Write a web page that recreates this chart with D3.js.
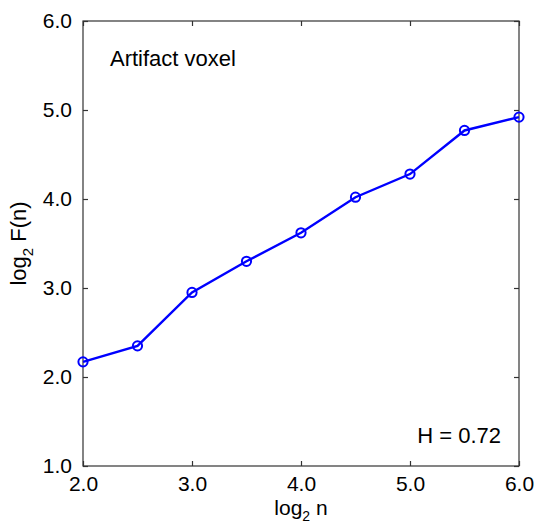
<!DOCTYPE html>
<html><head><meta charset="utf-8">
<script src="https://cdn.jsdelivr.net/npm/d3@7"></script>
<style>body{margin:0;background:#fff}text{font-family:"Liberation Sans",Arial,sans-serif;fill:#000}</style>
</head><body><svg id="c" width="538" height="523"></svg>
<script>
const xValues = [2.0, 2.5, 3.0, 3.5, 4.0, 4.5, 5.0, 5.5, 6.0];
const yValues = [2.17, 2.35, 2.95, 3.30, 3.62, 4.02, 4.28, 4.77, 4.92];
const xTicks = [2, 3, 4, 5, 6];
const yTicks = [1, 2, 3, 4, 5, 6];
const annotation = "Artifact voxel";
const hLabel = "H = 0.72";

const svg = d3.select("#c");
const L = 83, R = 519, T = 21, B = 466;
const x = d3.scaleLinear().domain([2, 6]).range([L, R]);
const y = d3.scaleLinear().domain([1, 6]).range([B, T]);
const fmt = d3.format(".1f");
const axisColor = "#333";

// frame
svg.append("rect").attr("x", L).attr("y", T).attr("width", R - L).attr("height", B - T)
  .attr("fill", "none").attr("stroke", axisColor).attr("stroke-width", 1.2);

function styleAxis(g) {
  g.select(".domain").remove();
  g.selectAll(".tick line").attr("stroke", axisColor).attr("stroke-width", 1.2);
  g.selectAll(".tick text").style("font-size", "21px").attr("fill", "#000");
}
svg.append("g").attr("transform", `translate(0,${B})`)
  .call(d3.axisBottom(x).tickValues(xTicks).tickFormat(fmt).tickSizeInner(-5).tickPadding(10))
  .call(styleAxis);
svg.append("g").attr("transform", `translate(0,${T})`)
  .call(d3.axisTop(x).tickValues(xTicks).tickFormat("").tickSizeInner(-5))
  .call(styleAxis);
svg.append("g").attr("transform", `translate(${L},0)`)
  .call(d3.axisLeft(y).tickValues(yTicks).tickFormat(fmt).tickSizeInner(-5).tickPadding(11))
  .call(styleAxis);
svg.append("g").attr("transform", `translate(${R},0)`)
  .call(d3.axisRight(y).tickValues(yTicks).tickFormat("").tickSizeInner(-5))
  .call(styleAxis);

const data = xValues.map((v, i) => ({x: v, y: yValues[i]}));
svg.append("path").datum(data)
  .attr("d", d3.line().x(d => x(d.x)).y(d => y(d.y)))
  .attr("fill", "none").attr("stroke", "#0000ff").attr("stroke-width", 2.4);
svg.append("g").selectAll("circle").data(data).join("circle")
  .attr("cx", d => x(d.x)).attr("cy", d => y(d.y)).attr("r", 4.6)
  .attr("fill", "none").attr("stroke", "#0000ff").attr("stroke-width", 2);

svg.append("text").attr("x", 110).attr("y", 66).style("font-size", "22px").text(annotation);
svg.append("text").attr("x", 501).attr("y", 443).attr("text-anchor", "end").style("font-size", "22px").text(hLabel);

// x label
const xl = svg.append("text").attr("x", (L + R) / 2).attr("y", 515).attr("text-anchor", "middle").style("font-size", "21px");
xl.append("tspan").text("log");
xl.append("tspan").attr("dy", 6).style("font-size", "14px").text("2");
xl.append("tspan").attr("dy", -6).text(" n");

// y label
const yl = svg.append("text").attr("transform", `translate(26,${(T + B) / 2}) rotate(-90)`)
  .attr("text-anchor", "middle").style("font-size", "22px");
yl.append("tspan").text("log");
yl.append("tspan").attr("dy", 7).style("font-size", "15px").text("2");
yl.append("tspan").attr("dy", -7).text(" F(n)");
</script></body></html>
